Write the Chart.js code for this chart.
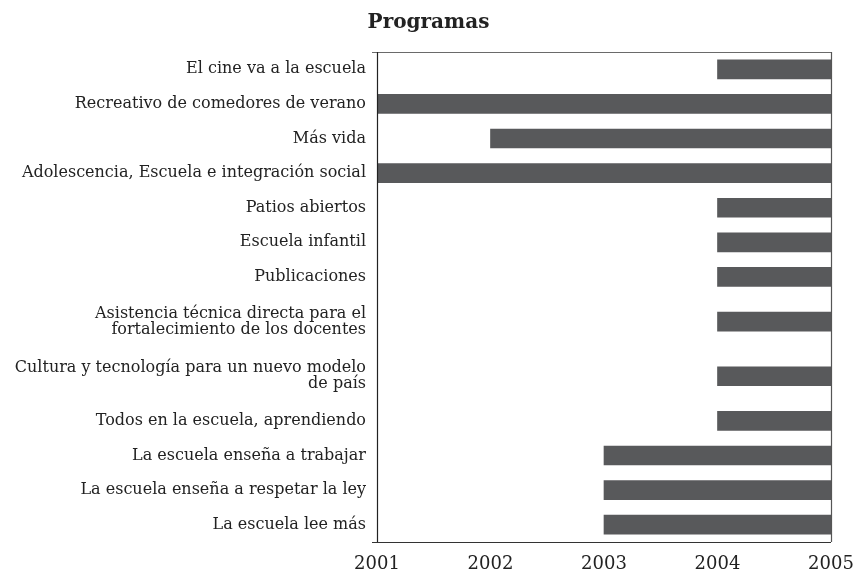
<!DOCTYPE html>
<html>
<head>
<meta charset="utf-8">
<script src="https://cdn.jsdelivr.net/npm/chart.js@4.4.1/dist/chart.umd.min.js"></script>
<style>
  html, body { margin: 0; padding: 0; background: #ffffff; }
  #wrap { width: 857px; height: 570px; }
</style>
</head>
<body>
<div id="wrap"><canvas id="c" width="857" height="570"></canvas></div>
<script>
// ---- Data ----
const programas = [
  "El cine va a la escuela",
  "Recreativo de comedores de verano",
  "Más vida",
  "Adolescencia, Escuela e integración social",
  "Patios abiertos",
  "Escuela infantil",
  "Publicaciones",
  ["Asistencia técnica directa para el", "fortalecimiento de los docentes"],
  ["Cultura y tecnología para un nuevo modelo", "de país"],
  "Todos en la escuela, aprendiendo",
  "La escuela enseña a trabajar",
  "La escuela enseña a respetar la ley",
  "La escuela lee más"
];
const inicio = [2004, 2001, 2002, 2001, 2004, 2004, 2004, 2004, 2004, 2004, 2003, 2003, 2003];
const fin    = [2005, 2005, 2005, 2005, 2005, 2005, 2005, 2005, 2005, 2005, 2005, 2005, 2005];
const anios  = [2001, 2002, 2003, 2004, 2005];
const titulo = "Programas";

// ---- Row layout: rows with two-line labels are taller ----
const nLines = programas.map(p => Array.isArray(p) ? p.length : 1);
const rowSize = nLines.map(n => 1 + 0.58 * (n - 1));
const rowPos = [];
let acc = 0;
rowSize.forEach(s => { rowPos.push(acc + s / 2); acc += s; });
const total = acc;

const serif = "'DejaVu Serif', 'Liberation Serif', serif";

const framePlugin = {
  id: 'frame',
  afterDatasetsDraw(chart) {
    const { ctx, chartArea: a } = chart;
    ctx.save();
    ctx.lineWidth = 1.2;
    ctx.strokeStyle = '#6a6a6a';
    ctx.beginPath(); ctx.moveTo(a.left - 5, a.top + 0.5); ctx.lineTo(a.right, a.top + 0.5); ctx.stroke();
    ctx.strokeStyle = '#555555';
    ctx.beginPath(); ctx.moveTo(a.right + 0.5, a.top); ctx.lineTo(a.right + 0.5, a.bottom); ctx.stroke();
    ctx.strokeStyle = '#333333';
    ctx.beginPath(); ctx.moveTo(a.left - 5, a.bottom + 0.5); ctx.lineTo(a.right, a.bottom + 0.5); ctx.stroke();
    ctx.strokeStyle = '#222222';
    ctx.beginPath(); ctx.moveTo(a.left + 0.5, a.top); ctx.lineTo(a.left + 0.5, a.bottom); ctx.stroke();
    ctx.restore();
  }
};

new Chart(document.getElementById('c'), {
  type: 'bar',
  data: {
    datasets: [{
      data: programas.map((p, i) => ({ x: [inicio[i], fin[i]], y: rowPos[i] })),
      backgroundColor: '#58595b',
      borderWidth: 0,
      barThickness: 19
    }]
  },
  options: {
    indexAxis: 'y',
    responsive: false,
    animation: false,
    layout: { padding: { left: 0, right: 0, top: 0, bottom: 0 } },
    plugins: {
      legend: { display: false },
      tooltip: { enabled: false },
      title: {
        display: true,
        text: titulo,
        color: '#222222',
        font: { family: serif, size: 20, weight: 'bold', lineHeight: 1.2 },
        padding: { top: 11, bottom: 17 }
      }
    },
    scales: {
      x: {
        type: 'linear',
        min: anios[0],
        max: anios[anios.length - 1],
        offset: false,
        afterBuildTicks(scale) { scale.ticks = anios.map(v => ({ value: v })); },
        afterFit(scale) { scale.height = 28; scale.paddingLeft = 0; scale.paddingRight = 26; },
        grid: { display: false, drawTicks: false, offset: false },
        border: { display: false },
        ticks: {
          color: '#222222',
          font: { family: serif, size: 18 },
          padding: 12,
          maxRotation: 0,
          autoSkip: false,
          callback: v => String(v)
        }
      },
      y: {
        type: 'linear',
        reverse: true,
        offset: false,
        min: 0,
        max: total,
        afterBuildTicks(scale) { scale.ticks = rowPos.map(v => ({ value: v })); },
        afterFit(scale) { scale.width = 377; scale.paddingTop = 0; scale.paddingBottom = 0; },
        grid: { display: false, drawTicks: false, offset: false },
        border: { display: false },
        ticks: {
          color: '#222222',
          font: { family: serif, size: 16, lineHeight: 1.0 },
          padding: 11,
          autoSkip: false,
          callback: (v, i) => programas[i]
        }
      }
    }
  },
  plugins: [framePlugin]
});
</script>
</body>
</html>
